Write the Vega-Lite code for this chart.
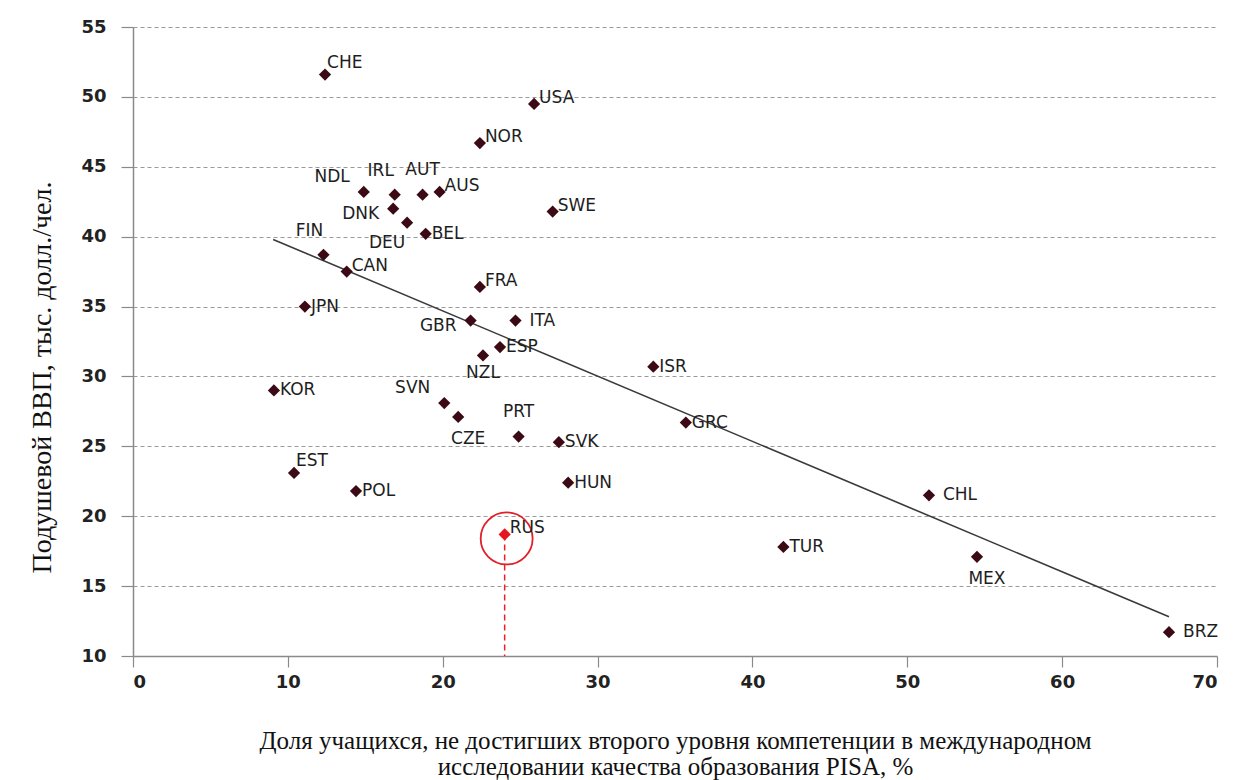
{
  "$schema": "https://vega.github.io/schema/vega-lite/v6.json",
  "autosize": {"type": "none"},
  "padding": {"left": 133, "top": 27, "right": 17, "bottom": 124},
  "width": 1084,
  "height": 629,
  "background": "white",
  "config": {
    "view": {"stroke": null},
    "axis": {
      "labelFont": "DejaVu Sans",
      "labelFontWeight": "bold",
      "labelFontSize": 18,
      "labelColor": "#222222",
      "titleFont": "Liberation Serif",
      "titleFontWeight": "normal",
      "titleFontSize": 25,
      "titleColor": "#111111",
      "domainColor": "#8a8a8a",
      "domainWidth": 1.5,
      "tickColor": "#8a8a8a",
      "tickWidth": 1.2
    }
  },
  "datasets": {
    "pts": [
      {"c": "CHE", "x": 12.4, "y": 51.6},
      {"c": "USA", "x": 25.9, "y": 49.5},
      {"c": "NOR", "x": 22.4, "y": 46.7},
      {"c": "NDL", "x": 14.9, "y": 43.2},
      {"c": "IRL", "x": 16.9, "y": 43.0},
      {"c": "AUT", "x": 18.7, "y": 43.0},
      {"c": "AUS", "x": 19.8, "y": 43.2},
      {"c": "DNK", "x": 16.8, "y": 42.0},
      {"c": "DEU", "x": 17.7, "y": 41.0},
      {"c": "BEL", "x": 18.9, "y": 40.2},
      {"c": "SWE", "x": 27.1, "y": 41.8},
      {"c": "FIN", "x": 12.3, "y": 38.7},
      {"c": "CAN", "x": 13.8, "y": 37.5},
      {"c": "FRA", "x": 22.4, "y": 36.4},
      {"c": "JPN", "x": 11.1, "y": 35.0},
      {"c": "GBR", "x": 21.8, "y": 34.0},
      {"c": "ITA", "x": 24.7, "y": 34.0},
      {"c": "ESP", "x": 23.7, "y": 32.1},
      {"c": "NZL", "x": 22.6, "y": 31.5},
      {"c": "KOR", "x": 9.1, "y": 29.0},
      {"c": "SVN", "x": 20.1, "y": 28.1},
      {"c": "CZE", "x": 21.0, "y": 27.1},
      {"c": "PRT", "x": 24.9, "y": 25.7},
      {"c": "SVK", "x": 27.5, "y": 25.3},
      {"c": "EST", "x": 10.4, "y": 23.1},
      {"c": "POL", "x": 14.4, "y": 21.8},
      {"c": "HUN", "x": 28.1, "y": 22.4},
      {"c": "RUS", "x": 24.0, "y": 18.7},
      {"c": "ISR", "x": 33.6, "y": 30.7},
      {"c": "GRC", "x": 35.7, "y": 26.7},
      {"c": "TUR", "x": 42.0, "y": 17.8},
      {"c": "CHL", "x": 51.4, "y": 21.5},
      {"c": "MEX", "x": 54.5, "y": 17.1},
      {"c": "BRZ", "x": 66.9, "y": 11.7}
    ],
    "trend": [
      {"x": 9.05, "y": 39.8},
      {"x": 66.9, "y": 12.8}
    ]
  },
  "encoding": {
    "x": {
      "field": "x", "type": "quantitative",
      "scale": {"domain": [0, 70], "nice": false, "zero": false},
      "axis": {
        "values": [0, 10, 20, 30, 40, 50, 60, 70],
        "grid": false,
        "tickSize": 11,
        "labelPadding": 6,
        "title": ["Доля учащихся, не достигших второго уровня компетенции в международном", "исследовании качества образования PISA, %"],
        "titleBaseline": "alphabetic",
        "titleAlign": "center",
        "titleX": 542,
        "titleY": 92,
        "titleLineHeight": 26
      }
    },
    "y": {
      "field": "y", "type": "quantitative",
      "scale": {"domain": [10, 55], "nice": false, "zero": false},
      "axis": {
        "values": [10, 15, 20, 25, 30, 35, 40, 45, 50, 55],
        "grid": true,
        "gridDash": [4, 3],
        "gridColor": "#9a9a9a",
        "gridWidth": 1,
        "tickSize": 12,
        "labelPadding": 15,
        "title": "Подушевой ВВП, тыс. долл./чел.",
        "titleFontSize": 28,
        "titleX": -91,
        "titleY": 350,
        "titleAlign": "center",
        "titleBaseline": "middle",
        "titleAngle": -90
      }
    }
  },
  "layer": [
    {
      "data": {"name": "trend"},
      "mark": {"type": "line", "color": "#3a3a3a", "strokeWidth": 1.6},
      "encoding": {}
    },
    {
      "data": {"name": "pts"},
      "transform": [{"filter": "datum.c !== 'RUS'"}],
      "mark": {"type": "point", "shape": "diamond", "filled": true, "size": 150, "color": "#3b0a14", "opacity": 1}
    },
    {
      "data": {"name": "pts"},
      "transform": [{"filter": "datum.c === 'RUS'"}],
      "mark": {"type": "rule", "color": "#e8202a", "strokeWidth": 1.5, "strokeDash": [6, 4]},
      "encoding": {"y2": {"datum": 10}}
    },
    {
      "data": {"name": "pts"},
      "transform": [{"filter": "datum.c === 'RUS'"}],
      "mark": {"type": "point", "shape": "diamond", "filled": true, "size": 150, "color": "#e8141e", "opacity": 1}
    },
    {
      "data": {"name": "pts"},
      "transform": [{"filter": "datum.c === 'RUS'"}],
      "mark": {"type": "point", "shape": "circle", "filled": false, "size": 2700, "color": "#e0202a", "strokeWidth": 1.8, "opacity": 1, "yOffset": 4, "xOffset": 2}
    },
    {
      "data": {"name": "pts"},
      "transform": [{"filter": {"field": "c", "oneOf": ["BEL", "JPN", "ESP", "KOR", "SVK", "HUN", "POL", "ISR", "GRC", "TUR"]}}],
      "mark": {"type": "text", "align": "left", "baseline": "middle", "dx": 6, "dy": 0, "font": "DejaVu Sans", "fontSize": 17, "color": "#1e1e1e"},
      "encoding": {"text": {"field": "c"}}
    },
    {
      "data": {"name": "pts"},
      "transform": [{"filter": {"field": "c", "oneOf": ["NOR", "FRA", "AUS", "SWE", "CAN", "USA", "RUS"]}}],
      "mark": {"type": "text", "align": "left", "baseline": "middle", "dx": 5, "dy": -6, "font": "DejaVu Sans", "fontSize": 17, "color": "#1e1e1e"},
      "encoding": {"text": {"field": "c"}}
    },
    {
      "data": {"name": "pts"},
      "transform": [{"filter": {"field": "c", "oneOf": ["ITA", "CHL", "BRZ"]}}],
      "mark": {"type": "text", "align": "left", "baseline": "middle", "dx": 14, "dy": 0, "font": "DejaVu Sans", "fontSize": 17, "color": "#1e1e1e"},
      "encoding": {"text": {"field": "c"}}
    },
    {
      "data": {"name": "pts"},
      "transform": [{"filter": {"field": "c", "oneOf": ["CHE", "EST"]}}],
      "mark": {"type": "text", "align": "left", "baseline": "middle", "dx": 2, "dy": -12, "font": "DejaVu Sans", "fontSize": 17, "color": "#1e1e1e"},
      "encoding": {"text": {"field": "c"}}
    },
    {
      "data": {"name": "pts"},
      "transform": [{"filter": {"field": "c", "oneOf": ["GBR", "DNK"]}}],
      "mark": {"type": "text", "align": "right", "baseline": "middle", "dx": -14, "dy": 5, "font": "DejaVu Sans", "fontSize": 17, "color": "#1e1e1e"},
      "encoding": {"text": {"field": "c"}}
    },
    {
      "data": {"name": "pts"},
      "transform": [{"filter": {"field": "c", "oneOf": ["NDL", "SVN"]}}],
      "mark": {"type": "text", "align": "right", "baseline": "middle", "dx": -14, "dy": -15, "font": "DejaVu Sans", "fontSize": 17, "color": "#1e1e1e"},
      "encoding": {"text": {"field": "c"}}
    },
    {
      "data": {"name": "pts"},
      "transform": [{"filter": {"field": "c", "oneOf": ["AUT", "PRT"]}}],
      "mark": {"type": "text", "align": "center", "baseline": "middle", "dx": 0, "dy": -25, "font": "DejaVu Sans", "fontSize": 17, "color": "#1e1e1e"},
      "encoding": {"text": {"field": "c"}}
    },
    {
      "data": {"name": "pts"},
      "transform": [{"filter": {"field": "c", "oneOf": ["IRL", "FIN"]}}],
      "mark": {"type": "text", "align": "center", "baseline": "middle", "dx": -14, "dy": -24, "font": "DejaVu Sans", "fontSize": 17, "color": "#1e1e1e"},
      "encoding": {"text": {"field": "c"}}
    },
    {
      "data": {"name": "pts"},
      "transform": [{"filter": {"field": "c", "oneOf": ["NZL"]}}],
      "mark": {"type": "text", "align": "center", "baseline": "middle", "dx": 0, "dy": 18, "font": "DejaVu Sans", "fontSize": 17, "color": "#1e1e1e"},
      "encoding": {"text": {"field": "c"}}
    },
    {
      "data": {"name": "pts"},
      "transform": [{"filter": {"field": "c", "oneOf": ["CZE", "MEX"]}}],
      "mark": {"type": "text", "align": "center", "baseline": "middle", "dx": 10, "dy": 22, "font": "DejaVu Sans", "fontSize": 17, "color": "#1e1e1e"},
      "encoding": {"text": {"field": "c"}}
    },
    {
      "data": {"name": "pts"},
      "transform": [{"filter": {"field": "c", "oneOf": ["DEU"]}}],
      "mark": {"type": "text", "align": "center", "baseline": "middle", "dx": -20, "dy": 20, "font": "DejaVu Sans", "fontSize": 17, "color": "#1e1e1e"},
      "encoding": {"text": {"field": "c"}}
    }
  ]
}
